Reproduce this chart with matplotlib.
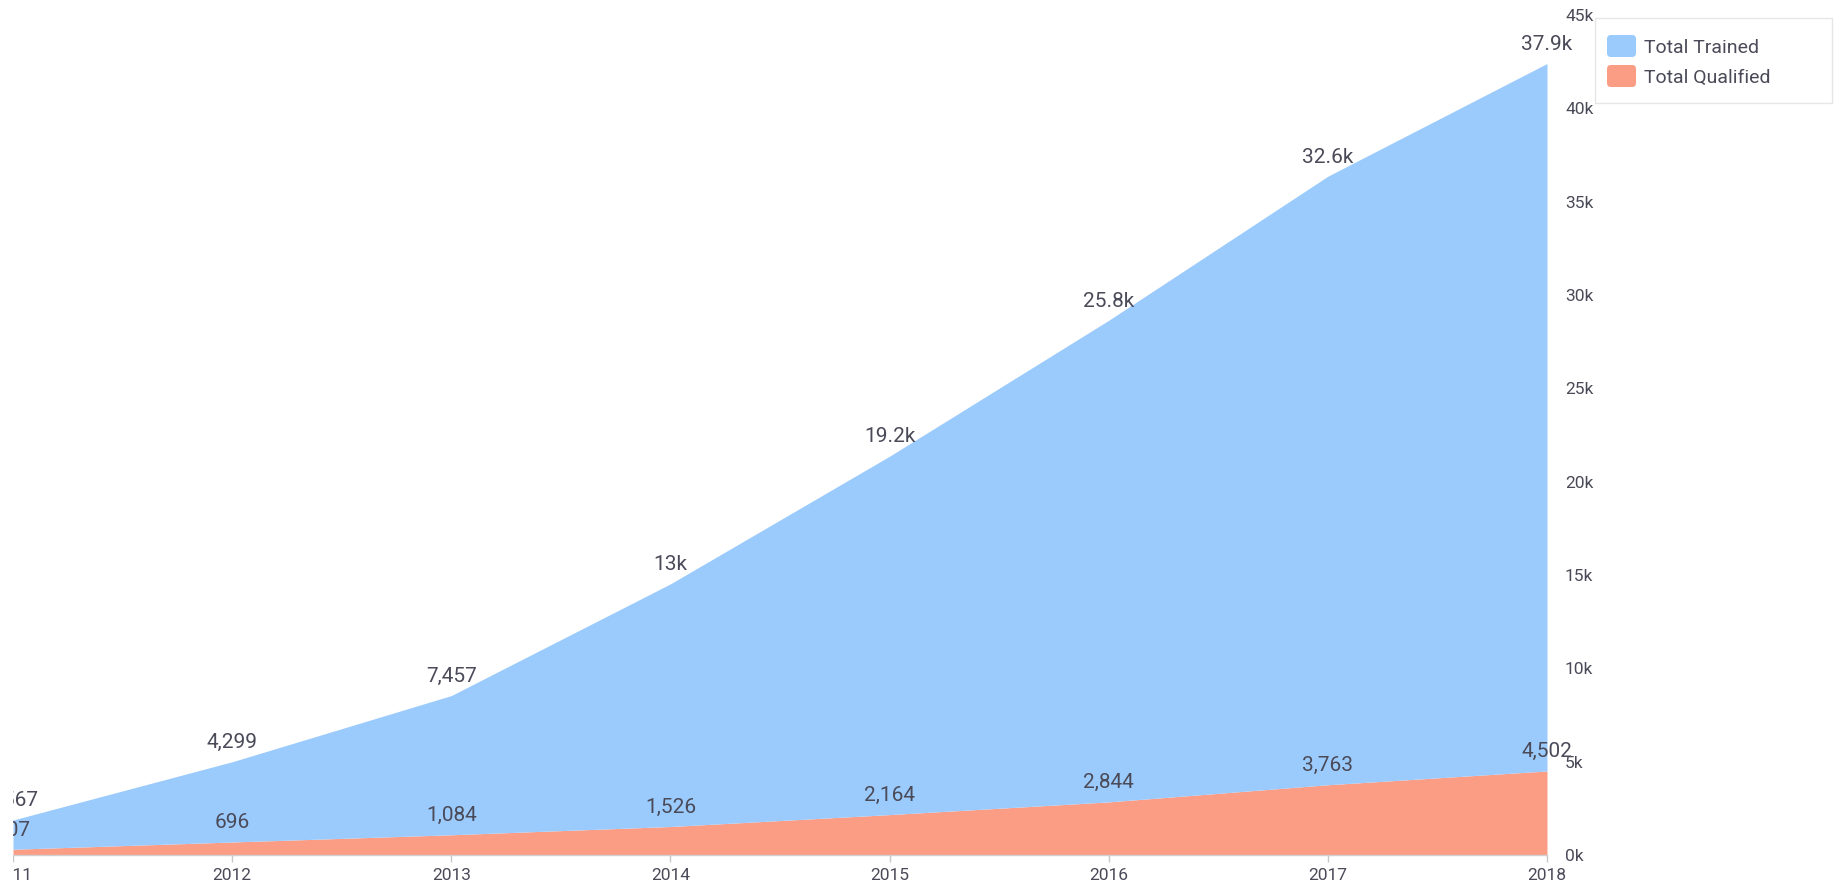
import matplotlib
matplotlib.use("Agg")
import matplotlib.pyplot as plt
from matplotlib.patches import Rectangle, FancyBboxPatch
import numpy as np

years = [2011, 2012, 2013, 2014, 2015, 2016, 2017, 2018]
total_qualified = [307, 696, 1084, 1526, 2164, 2844, 3763, 4502]
total_trained = [1567, 4299, 7457, 13000, 19200, 25800, 32600, 37900]
y_ticks = [0, 5000, 10000, 15000, 20000, 25000, 30000, 35000, 40000, 45000]
series_names = ["Total Trained", "Total Qualified"]

BLUE = "#9bcbfd"
SALMON = "#fb9c85"
TXT = "#4a4a58"

plt.rcParams["font.family"] = ["Roboto", "DejaVu Sans"]

W, H = 1839, 885
fig = plt.figure(figsize=(W / 100, H / 100), dpi=100)
ax = fig.add_axes([13 / W, 1 - 855 / H, (1547 - 13) / W, (855 - 15) / H])

q = np.array(total_qualified)
t = np.array(total_trained)
top = q + t
ax.fill_between(years, 0, q, color=SALMON, lw=0)
ax.fill_between(years, q, top, color=BLUE, lw=0)


def fmt(v):
    if v >= 10000:
        s = f"{v/1000:.1f}".rstrip("0").rstrip(".")
        return s + "k"
    return f"{v:,}"


for x, yq, yt, vq, vt in zip(years, q, top, total_qualified, total_trained):
    ax.annotate(fmt(vt), (x, yt), xytext=(0, 7), textcoords="offset points",
                ha="center", va="bottom", fontsize=15, color=TXT, clip_on=False)
    ax.annotate(fmt(vq), (x, yq), xytext=(0, 7), textcoords="offset points",
                ha="center", va="bottom", fontsize=15, color=TXT, clip_on=False)

ax.set_xlim(2011, 2018)
ax.set_ylim(0, 45000)
ax.set_xticks(years)
ax.set_xticklabels([str(y) for y in years])
ax.set_yticks(y_ticks)
ax.set_yticklabels([f"{v//1000}k" for v in y_ticks])
ax.yaxis.tick_right()
ax.tick_params(axis="y", length=0, pad=13, labelsize=12.5, labelcolor=TXT)
ax.tick_params(axis="x", length=5, width=1, color="#c8c8c8", pad=4, labelsize=12.5, labelcolor=TXT)
for sp in ["top", "left", "right"]:
    ax.spines[sp].set_visible(False)
ax.spines["bottom"].set_color("#d0d0d0")
ax.spines["bottom"].set_linewidth(1)
ax.set_facecolor("white")

# left edge cut-off (the reference view is clipped at its left side)
fig.patches.append(Rectangle((0, 0), 13 / W, 1, transform=fig.transFigure,
                             fc="white", ec="none", zorder=10))

# legend box
fig.patches.append(Rectangle((1595 / W, 1 - 103 / H), (1832 - 1595) / W, (103 - 18) / H,
                             transform=fig.transFigure, fc="white", ec="#e6e6e6",
                             lw=1, zorder=5))
legend_colors = [BLUE, SALMON]
row_centers = [46, 76]
for name, col, yc in zip(series_names, legend_colors, row_centers):
    r = 4
    x0, x1 = 1607, 1636
    y0, y1 = yc - 11, yc + 11
    fig.patches.append(FancyBboxPatch(((x0 + r) / W, 1 - (y1 - r) / H),
                                      (x1 - x0 - 2 * r) / W, (y1 - y0 - 2 * r) / H,
                                      boxstyle=f"round,pad={r / W}", mutation_aspect=W / H,
                                      transform=fig.transFigure, fc=col, ec="none", zorder=6))
    fig.text(1644 / W, 1 - yc / H, name, ha="left", va="center_baseline",
             fontsize=14, color=TXT, zorder=7)

fig.savefig("out.png", dpi=100, facecolor="white")
